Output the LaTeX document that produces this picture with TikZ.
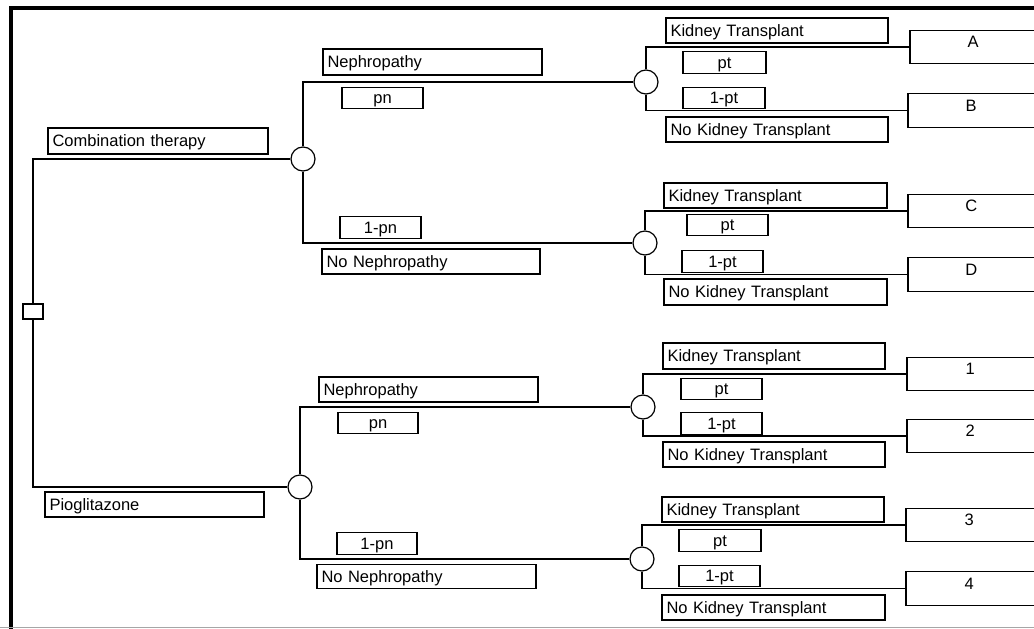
\documentclass[tikz,border=0pt]{standalone}
\usepackage{fontspec}
\setmainfont{Liberation Sans}
\begin{document}
\begin{tikzpicture}[x=1pt,y=-1pt,
  every node/.style={font=\fontsize{16.5}{19}\selectfont},
  wire/.style={line width=1.2pt},
  labelbox/.style={draw,line width=1.1pt,rectangle,inner xsep=4.5pt,inner ysep=0pt,
    text height=11.8pt,text depth=0pt,minimum height=#1},
  labelbox/.default=25pt,
  namebox/.style={labelbox,text width=#1-9pt,align=left},
  probbox/.style={labelbox=21.5pt,minimum width=#1,inner xsep=0pt},
  probbox/.default=81pt,
  chance/.style={draw,circle,line width=1.2pt,minimum size=24pt,inner sep=0pt},
  decision/.style={draw,rectangle,line width=1.2pt,minimum width=20pt,minimum height=15pt,inner sep=0pt},
  terminal/.style={rectangle,anchor=west,minimum width=126pt,minimum height=33pt,
    inner sep=0pt,text height=12pt,text depth=11pt}]
\path[use as bounding box] (0,0) rectangle (1034,629);

% outer frame
\draw[line width=3.5pt] (11,629) -- (11,8) -- (1040,8);
\draw[line width=0.8pt,black!35] (0,627) -- (1034,627);

% decision and chance nodes
\node[decision] (sq) at (33,311.5) {};
\node[chance] (c1) at (303,159) {};
\node[chance] (c2) at (646,82) {};
\node[chance] (c3) at (645,243) {};
\node[chance] (c4) at (300,487) {};
\node[chance] (c5) at (643,407) {};
\node[chance] (c6) at (642,559) {};

% terminal outcomes (open to the right)
\node[terminal] (tA) at (910,47) {A};
\node[terminal] (tB) at (908,110.5) {B};
\node[terminal] (tC) at (908,211) {C};
\node[terminal] (tD) at (908,274.5) {D};
\node[terminal] (t1) at (907,374) {1};
\node[terminal] (t2) at (907,436) {2};
\node[terminal] (t3) at (906,525) {3};
\node[terminal] (t4) at (906,588.5) {4};
\foreach \t in {tA,tB,tC,tD,t1,t2,t3,t4}
  \draw[line width=1.1pt] ([xshift=40pt]\t.north east) -- (\t.north west)
    -- (\t.south west) -- ([xshift=40pt]\t.south east);

% branches
\draw[wire] (sq.north) |- (c1.west);
\draw[wire] (sq.south) |- (c4.west);
\draw[wire] (c1.north) |- (c2.west);
\draw[wire] (c1.south) |- (c3.west);
\draw[wire] (c4.north) |- (c5.west);
\draw[wire] (c4.south) |- (c6.west);
\draw[wire] (c2.north) |- (tA.west);
\draw[wire] (c2.south) |- (tB.west);
\draw[wire] (c3.north) |- (tC.west);
\draw[wire] (c3.south) |- (tD.west);
\draw[wire] (c5.north) |- (t1.west);
\draw[wire] (c5.south) |- (t2.west);
\draw[wire] (c6.north) |- (t3.west);
\draw[wire] (c6.south) |- (t4.west);

% strategy labels
\node[namebox=220pt,labelbox=26pt] (ct) at (158,141) {Combination therapy};
\node[namebox=219pt] (pio) at (154.5,504.5) {Pioglitazone};

% nephropathy branches
\node[namebox=219pt,labelbox=26pt] (nep1) at (432.5,62) {Nephropathy};
\node[probbox] (pn1) at (382.5,98) {pn};
\node[probbox] (qn1) at (380.5,227.5) {1-pn};
\node[namebox=218pt] (nonep1) at (431,261.5) {No Nephropathy};
\node[namebox=219pt] (nep2) at (428.5,389.5) {Nephropathy};
\node[probbox=80pt] (pn2) at (378,423) {pn};
\node[probbox=80pt] (qn2) at (377,543.5) {1-pn};
\node[namebox=219pt,labelbox=24pt] (nonep2) at (426.5,576.5) {No Nephropathy};

% transplant branches
\node[namebox=222pt] (ktA) at (777,30.5) {Kidney Transplant};
\node[probbox=83pt] (ptA) at (724.5,62.5) {pt};
\node[probbox=82pt] (qtA) at (724,98) {1-pt};
\node[namebox=222pt] (nktA) at (777,129.5) {No Kidney Transplant};

\node[namebox=223pt] (ktC) at (775.5,195.5) {Kidney Transplant};
\node[probbox] (ptC) at (727.5,225) {pt};
\node[probbox] (qtC) at (722.5,261.5) {1-pt};
\node[namebox=223pt,labelbox=26pt] (nktC) at (775.5,292) {No Kidney Transplant};

\node[namebox=222pt,labelbox=26pt] (kt1) at (774,356) {Kidney Transplant};
\node[probbox] (pt1) at (721.5,389) {pt};
\node[probbox] (qt1) at (721.5,423.5) {1-pt};
\node[namebox=222pt] (nkt1) at (774,454.5) {No Kidney Transplant};

\node[namebox=222pt] (kt3) at (773,509.5) {Kidney Transplant};
\node[probbox=82pt] (pt3) at (720,540.5) {pt};
\node[probbox] (qt3) at (719.5,576) {1-pt};
\node[namebox=223pt] (nkt3) at (773.5,607.5) {No Kidney Transplant};
\end{tikzpicture}
\end{document}
